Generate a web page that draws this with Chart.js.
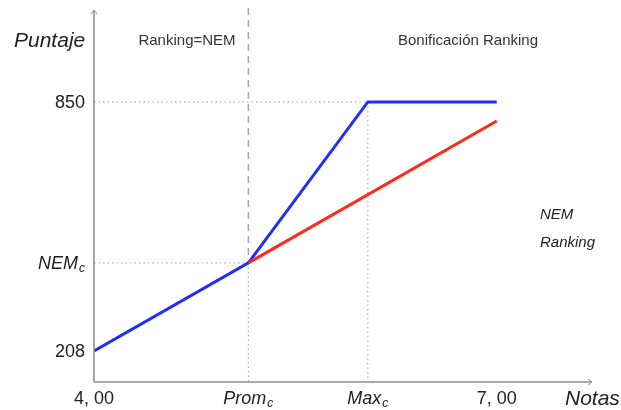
<!DOCTYPE html>
<html>
<head>
<meta charset="utf-8">
<script src="https://cdn.jsdelivr.net/npm/chart.js@4.4.1/dist/chart.umd.min.js"></script>
<style>
  body { margin: 0; background: #fff; }
  #wrap { width: 621px; height: 410px; }
</style>
</head>
<body>
<div id="wrap"><canvas id="chart"></canvas></div>
<script>
// grades (x) and scores (y)
const nemX = [5.15, 7.00];
const nemY = [435, 801];
const rankingX = [4.00, 5.15, 6.04, 7.00];
const rankingY = [208, 435, 850, 850];

const xTicks = [4.00, 5.15, 6.04, 7.00];
const xTickLabels = [['4, 00', ''], ['Prom', 'c'], ['Max', 'c'], ['7, 00', '']];
const yTicks = [208, 435, 850];
const yTickLabels = [['208', ''], ['NEM', 'c'], ['850', '']];

const toPoints = (xs, ys) => xs.map((x, i) => ({ x: x, y: ys[i] }));

const FONT = '"Liberation Sans", Arial, sans-serif';

function drawLabel(ctx, parts, x, y, align, size, italic) {
    const main = parts[0], sub = parts[1];
    const style = italic ? 'italic ' : '';
    ctx.font = style + size + 'px ' + FONT;
    const wMain = ctx.measureText(main).width;
    ctx.font = style + Math.round(size * 0.65) + 'px ' + FONT;
    const wSub = sub ? ctx.measureText(sub).width + 1 : 0;
    const total = wMain + wSub;
    let left = x;
    if (align === 'center') left = x - total / 2;
    if (align === 'right') left = x - total;
    ctx.textAlign = 'left';
    ctx.textBaseline = 'alphabetic';
    ctx.font = style + size + 'px ' + FONT;
    ctx.fillText(main, left, y);
    if (sub) {
        ctx.font = style + Math.round(size * 0.65) + 'px ' + FONT;
        ctx.fillText(sub, left + wMain + 1, y + 3);
    }
}

const decorations = {
    id: 'decorations',
    beforeDatasetsDraw(chart) {
        const ctx = chart.ctx;
        const xs = chart.scales.x, ys = chart.scales.y;
        const a = chart.chartArea;
        const px = v => xs.getPixelForValue(v);
        const py = v => ys.getPixelForValue(v);
        ctx.save();
        // guide lines
        ctx.strokeStyle = '#a0a0a0';
        ctx.lineWidth = 1;
        ctx.setLineDash([1.5, 3]);
        ctx.beginPath();
        ctx.moveTo(a.left, py(850)); ctx.lineTo(px(xTicks[2]), py(850));
        ctx.moveTo(px(xTicks[2]), py(850)); ctx.lineTo(px(xTicks[2]), a.bottom);
        ctx.moveTo(a.left, py(yTicks[1])); ctx.lineTo(px(xTicks[1]), py(yTicks[1]));
        ctx.moveTo(px(xTicks[1]), py(yTicks[1])); ctx.lineTo(px(xTicks[1]), a.bottom);
        ctx.stroke();
        ctx.strokeStyle = '#a8a8a8';
        ctx.lineWidth = 1.5;
        ctx.setLineDash([7, 5]);
        ctx.beginPath();
        ctx.moveTo(px(xTicks[1]), a.top - 2);
        ctx.lineTo(px(xTicks[1]), py(yTicks[1]));
        ctx.stroke();
        ctx.restore();
    },
    afterDatasetsDraw(chart) {
        const ctx = chart.ctx;
        const xs = chart.scales.x, ys = chart.scales.y;
        const a = chart.chartArea;
        ctx.save();
        // axes with arrows
        ctx.strokeStyle = '#8c8c8c';
        ctx.lineWidth = 1.5;
        ctx.setLineDash([]);
        ctx.beginPath();
        ctx.moveTo(a.left, a.bottom); ctx.lineTo(a.left, a.top + 1);
        ctx.moveTo(a.left, a.bottom); ctx.lineTo(a.right - 1, a.bottom);
        ctx.stroke();
        ctx.lineWidth = 1;
        ctx.beginPath();
        ctx.moveTo(a.left - 3, a.top + 4); ctx.lineTo(a.left, a.top); ctx.lineTo(a.left + 3, a.top + 4);
        ctx.moveTo(a.right - 4, a.bottom - 3); ctx.lineTo(a.right, a.bottom); ctx.lineTo(a.right - 4, a.bottom + 3);
        ctx.stroke();

        ctx.fillStyle = '#222';
        xTicks.forEach((v, i) => {
            drawLabel(ctx, xTickLabels[i], xs.getPixelForValue(v), a.bottom + 22, 'center', 18, xTickLabels[i][1] !== '');
        });
        yTicks.forEach((v, i) => {
            drawLabel(ctx, yTickLabels[i], a.left - 9, ys.getPixelForValue(v) + 6, 'right', 18, yTickLabels[i][1] !== '');
        });
        drawLabel(ctx, ['Puntaje', ''], 14, 47, 'left', 21, true);
        drawLabel(ctx, ['Notas', ''], 565, 405, 'left', 21, true);

        ctx.fillStyle = '#333';
        drawLabel(ctx, ['Ranking=NEM', ''], 187, 45, 'center', 15, false);
        drawLabel(ctx, ['Bonificación Ranking', ''], 468, 45, 'center', 15, false);

        // legend text
        ctx.fillStyle = '#222';
        drawLabel(ctx, ['NEM', ''], 540, 219, 'left', 15, true);
        drawLabel(ctx, ['Ranking', ''], 540, 247, 'left', 15, true);
        ctx.restore();
    }
};

new Chart(document.getElementById('chart'), {
    type: 'scatter',
    data: {
        datasets: [
            {
                label: 'NEM',
                data: toPoints(nemX, nemY),
                showLine: true,
                borderColor: '#ff2a1a',
                borderWidth: 3,
                pointRadius: 0,
                tension: 0
            },
            {
                label: 'Ranking',
                data: toPoints(rankingX, rankingY),
                showLine: true,
                borderColor: '#1f2eff',
                borderWidth: 3,
                pointRadius: 0,
                tension: 0
            }
        ]
    },
    options: {
        responsive: true,
        maintainAspectRatio: false,
        animation: false,
        layout: { padding: { left: 94, right: 29, top: 10, bottom: 28 } },
        plugins: {
            legend: { display: false },
            tooltip: { enabled: false }
        },
        scales: {
            x: { type: 'linear', min: 4.0, max: 7.71, display: false },
            y: { type: 'linear', min: 128, max: 1087, display: false }
        }
    },
    plugins: [decorations]
});
</script>
</body>
</html>
